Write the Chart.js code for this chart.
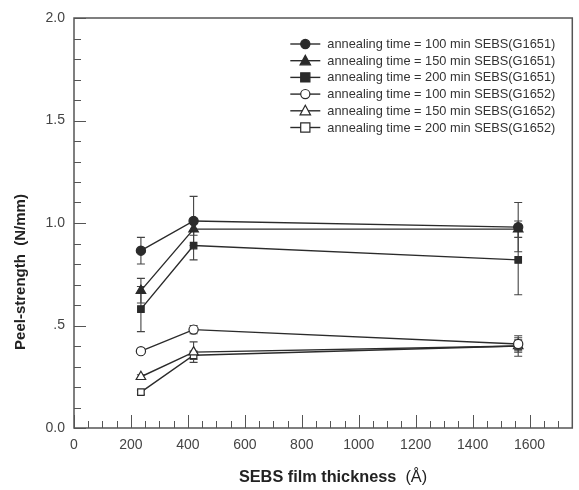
<!DOCTYPE html>
<html>
<head>
<meta charset="utf-8">
<script src="https://cdn.jsdelivr.net/npm/chart.js@4/dist/chart.umd.min.js"></script>
<style>
  html, body { margin: 0; padding: 0; background: #fff; }
  canvas { display: block; }
</style>
</head>
<body>
<canvas id="chart" width="579" height="490"></canvas>
<script>
// film thickness (Å) where the samples were measured
const thickness = [235, 420, 1560];

// peel strength (N/mm) and error bar half-heights
const peel100G1651 = [0.865, 1.01, 0.98];
const err100G1651 = [0.065, 0.12, 0.12];
const peel150G1651 = [0.67, 0.97, 0.97];
const err150G1651 = [0.06, 0.03, 0.04];
const peel200G1651 = [0.58, 0.89, 0.82];
const err200G1651 = [0.11, 0.07, 0.17];
const peel100G1652 = [0.375, 0.48, 0.41];
const err100G1652 = [0.01, 0.02, 0.03];
const peel150G1652 = [0.25, 0.37, 0.40];
const err150G1652 = [0.01, 0.05, 0.05];
const peel200G1652 = [0.175, 0.355, 0.40];
const err200G1652 = [0.01, 0.02, 0.03];

const seriesLabels = [
  'annealing time = 100 min SEBS(G1651)',
  'annealing time = 150 min SEBS(G1651)',
  'annealing time = 200 min SEBS(G1651)',
  'annealing time = 100 min SEBS(G1652)',
  'annealing time = 150 min SEBS(G1652)',
  'annealing time = 200 min SEBS(G1652)',
];

const xTicks = [0, 200, 400, 600, 800, 1000, 1200, 1400, 1600];
const yTicks = [0, 0.5, 1.0, 1.5, 2.0];
const yTickLabels = ['0.0', '.5', '1.0', '1.5', '2.0'];

const INK = '#2b2b2b';
const FONT = '"Liberation Sans", Arial, sans-serif';

function markerSize(shape) {
  return shape === 'triangle' ? 5.5 : 4.6;
}

function makeSet(label, values, errors, shape, filled) {
  return {
    label,
    data: thickness.map((x, i) => ({ x, y: values[i], err: errors[i] })),
    borderColor: INK,
    borderWidth: 1.4,
    pointStyle: shape,
    pointRadius: markerSize(shape),
    pointBorderWidth: 1.2,
    pointBorderColor: INK,
    pointBackgroundColor: filled ? INK : '#fff',
    tension: 0,
    fill: false,
  };
}

const datasets = [
  makeSet(seriesLabels[0], peel100G1651, err100G1651, 'circle', true),
  makeSet(seriesLabels[1], peel150G1651, err150G1651, 'triangle', true),
  makeSet(seriesLabels[2], peel200G1651, err200G1651, 'rect', true),
  makeSet(seriesLabels[3], peel100G1652, err100G1652, 'circle', false),
  makeSet(seriesLabels[4], peel150G1652, err150G1652, 'triangle', false),
  makeSet(seriesLabels[5], peel200G1652, err200G1652, 'rect', false),
];

function drawMarker(ctx, shape, filled, x, y, r) {
  ctx.save();
  ctx.beginPath();
  if (shape === 'circle') {
    ctx.arc(x, y, r, 0, Math.PI * 2);
  } else if (shape === 'rect') {
    ctx.rect(x - r, y - r, r * 2, r * 2);
  } else {
    ctx.moveTo(x, y - r);
    ctx.lineTo(x + r * 0.95, y + r * 0.75);
    ctx.lineTo(x - r * 0.95, y + r * 0.75);
    ctx.closePath();
  }
  ctx.fillStyle = filled ? INK : '#fff';
  ctx.fill();
  ctx.lineWidth = 1.2;
  ctx.strokeStyle = INK;
  ctx.stroke();
  ctx.restore();
}

const decorations = {
  id: 'decorations',
  beforeDatasetsDraw(chart) {
    const { ctx, scales: { x, y } } = chart;
    ctx.save();
    ctx.strokeStyle = '#444';
    ctx.lineWidth = 1.1;
    chart.data.datasets.forEach(ds => {
      ds.data.forEach(p => {
        const px = x.getPixelForValue(p.x);
        const top = y.getPixelForValue(p.y + p.err);
        const bot = y.getPixelForValue(p.y - p.err);
        ctx.beginPath();
        ctx.moveTo(px, top); ctx.lineTo(px, bot);
        ctx.moveTo(px - 4, top); ctx.lineTo(px + 4, top);
        ctx.moveTo(px - 4, bot); ctx.lineTo(px + 4, bot);
        ctx.stroke();
      });
    });
    ctx.restore();
  },
  afterDraw(chart) {
    const { ctx, chartArea: a, scales: { x, y } } = chart;
    ctx.save();

    // frame
    ctx.strokeStyle = '#555';
    ctx.lineWidth = 1.5;
    ctx.strokeRect(a.left, a.top, a.right - a.left, a.bottom - a.top);

    // inward ticks
    ctx.lineWidth = 1;
    ctx.strokeStyle = '#555';
    ctx.beginPath();
    for (let i = 0; i <= 20; i++) {
      const py = Math.round(y.getPixelForValue(i / 10)) + 0.5;
      const len = i % 5 === 0 ? 12 : 7;
      ctx.moveTo(a.left, py); ctx.lineTo(a.left + len, py);
    }
    for (let v = 0; v <= 1750; v += 50) {
      const px = Math.round(x.getPixelForValue(v)) + 0.5;
      const len = v % 200 === 0 ? 13 : 7;
      ctx.moveTo(px, a.bottom); ctx.lineTo(px, a.bottom - len);
    }
    ctx.stroke();

    // legend
    const lx = a.right - 282;
    let ly = a.top + 26;
    ctx.font = '12.8px ' + FONT;
    ctx.textBaseline = 'middle';
    chart.data.datasets.forEach(ds => {
      ctx.strokeStyle = INK;
      ctx.lineWidth = 1.4;
      ctx.beginPath();
      ctx.moveTo(lx, ly); ctx.lineTo(lx + 30, ly);
      ctx.stroke();
      const filled = ds.pointBackgroundColor !== '#fff';
      drawMarker(ctx, ds.pointStyle, filled, lx + 15, ly, markerSize(ds.pointStyle));
      ctx.fillStyle = '#333';
      ctx.fillText(ds.label, lx + 37, ly + 0.5);
      ly += 16.7;
    });

    // axis titles
    ctx.fillStyle = '#222';
    ctx.save();
    ctx.translate(21, 272);
    ctx.rotate(-Math.PI / 2);
    ctx.textAlign = 'center';
    ctx.font = 'bold 15px ' + FONT;
    ctx.fillText('Peel-strength  (N/mm)', 0, 0);
    ctx.restore();

    const t1 = 'SEBS film thickness';
    const t2 = '  (Å)';
    ctx.font = 'bold 16.3px ' + FONT;
    const w1 = ctx.measureText(t1).width;
    ctx.font = '16.3px ' + FONT;
    const w2 = ctx.measureText(t2).width;
    const sx = 333 - (w1 + w2) / 2;
    ctx.textAlign = 'left';
    ctx.font = 'bold 16.3px ' + FONT;
    ctx.fillText(t1, sx, 478);
    ctx.font = '16.3px ' + FONT;
    ctx.fillText(t2, sx + w1, 478);
    ctx.restore();
  },
};

new Chart(document.getElementById('chart'), {
  type: 'line',
  data: { datasets },
  options: {
    responsive: false,
    animation: false,
    layout: { padding: { top: 18, right: 4, left: 0, bottom: 0 } },
    plugins: {
      legend: { display: false },
      tooltip: { enabled: false },
    },
    scales: {
      x: {
        type: 'linear',
        min: 0,
        max: 1750,
        afterBuildTicks: axis => { axis.ticks = xTicks.map(value => ({ value })); },
        afterFit: scale => { scale.height = 62; },
        grid: { display: false, drawTicks: false },
        border: { display: false },
        ticks: {
          padding: 9,
          color: '#444',
          font: { family: FONT, size: 14 },
          maxRotation: 0,
          callback: value => value,
        },
      },
      y: {
        type: 'linear',
        min: 0,
        max: 2,
        afterBuildTicks: axis => { axis.ticks = yTicks.map(value => ({ value })); },
        afterFit: scale => { scale.width = 74; },
        grid: { display: false, drawTicks: false },
        border: { display: false },
        ticks: {
          padding: 9,
          color: '#444',
          font: { family: FONT, size: 14 },
          callback: value => yTickLabels[yTicks.indexOf(value)],
        },
      },
    },
  },
  plugins: [decorations],
});
</script>
</body>
</html>
